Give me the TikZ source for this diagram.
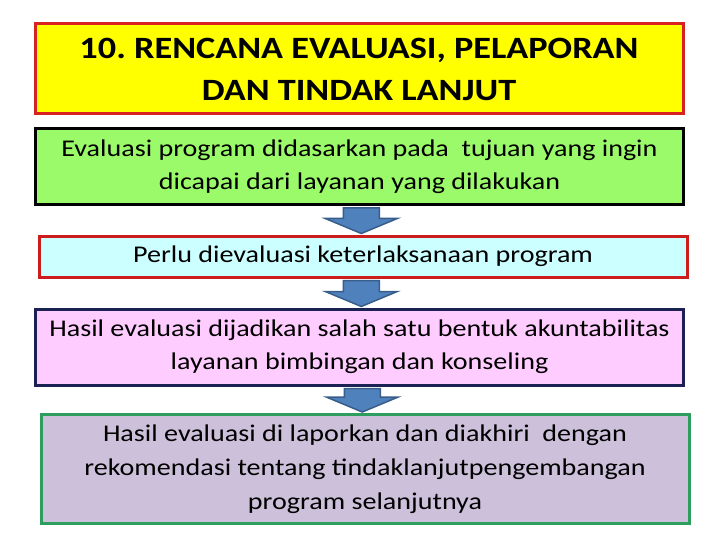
\documentclass[tikz,border=0pt]{standalone}
\usepackage{fontspec}
\setmainfont{Carlito}[FakeStretch=1.17]
\usepackage{tikz}
\usetikzlibrary{calc}
\frenchspacing

\definecolor{TitleRed}{HTML}{D82222}
\definecolor{TitleYellow}{HTML}{FFFF00}
\definecolor{EvalGreen}{HTML}{9BFA6A}
\definecolor{PerluCyan}{HTML}{CCFFFF}
\definecolor{PerluRed}{HTML}{CC1C1C}
\definecolor{HasilPink}{HTML}{FFCCFF}
\definecolor{HasilNavy}{HTML}{1B2152}
\definecolor{LaporLilac}{HTML}{CCC0DA}
\definecolor{LaporGreen}{HTML}{2E9E5E}
\definecolor{ArrowBlue}{HTML}{4F81BD}
\definecolor{ArrowEdge}{HTML}{385D8A}

\begin{document}
\begin{tikzpicture}[x=1pt,y=-1pt,line width=3pt]
   \useasboundingbox (0,0) rectangle (720,540);
   \tikzstyle{box}=[rectangle, inner sep=0pt, minimum width=648pt, align=center, font=\fontsize{24}{33}\selectfont]
   \tikzstyle{blockarrow}=[fill=ArrowBlue, draw=ArrowEdge, line width=1.5pt, line join=miter]
   \node[box, draw=TitleRed, fill=TitleYellow, minimum height=90pt, font=\fontsize{31}{42}\selectfont\bfseries] (title) at (359,69) {10. RENCANA EVALUASI, PELAPORAN\\DAN TINDAK LANJUT};
   \node[box, draw=black, fill=EvalGreen, minimum height=76pt] (eval) at (359.5,166.5) {Evaluasi program didasarkan pada\ \ tujuan yang ingin\\dicapai dari layanan yang dilakukan};
   \node[box, draw=PerluRed, fill=PerluCyan, minimum height=41pt] (perlu) at (363,256.5) {Perlu dievaluasi keterlaksanaan program};
   \node[box, draw=HasilNavy, fill=HasilPink, minimum height=76pt] (hasil) at (359.5,347) {Hasil evaluasi dijadikan salah satu bentuk akuntabilitas\\layanan bimbingan dan konseling};
   \node[box, draw=LaporGreen, fill=LaporLilac, minimum height=109pt, font=\fontsize{24}{34}\selectfont] (lapor) at (365,469) {Hasil evaluasi di laporkan dan diakhiri\ \ dengan\\rekomendasi tentang tindaklanjutpengembangan\\program selanjutnya};
   % block arrows between the boxes
   \foreach \a/\b in {eval/perlu,perlu/hasil,hasil/lapor} {
       \draw[blockarrow] let \p1=(\a.south), \p2=(\b.north), \n1={(\x1+\x2)/2}, \n2={\y2+16pt} in
          ({\n1-18pt},{\y1-2pt}) -- ({\n1+18pt},{\y1-2pt}) -- ({\n1+18pt},\n2) -- ({\n1+36pt},\n2)
          -- (\n1,{\y2+1pt}) -- ({\n1-36pt},\n2) -- ({\n1-18pt},\n2) -- cycle;
   }
\end{tikzpicture}
\end{document}
